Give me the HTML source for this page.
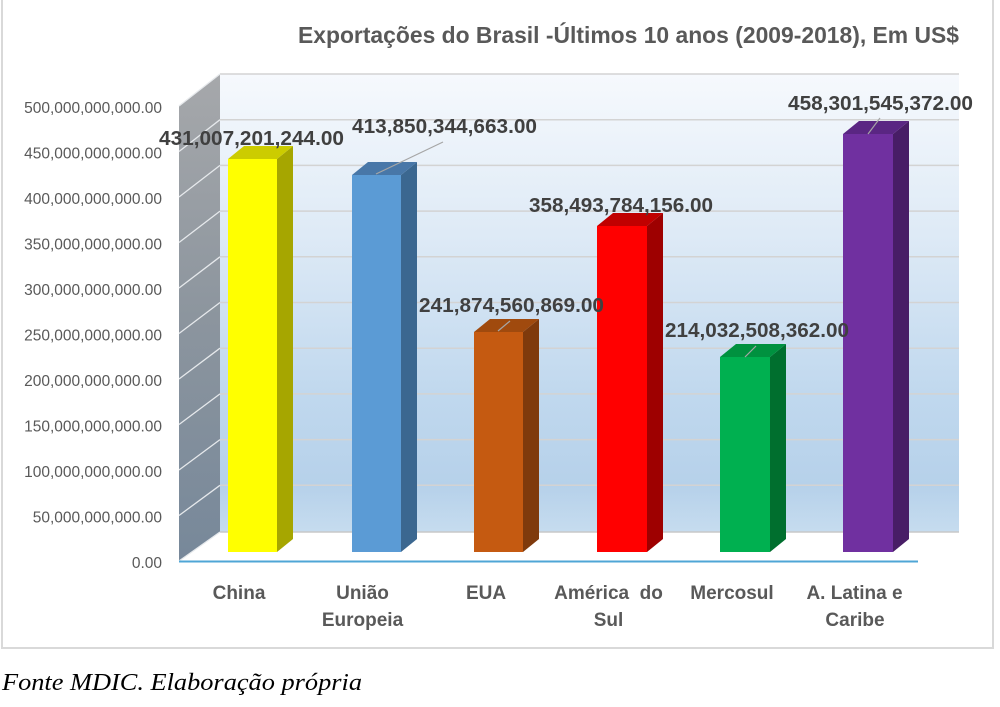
<!DOCTYPE html>
<html>
<head>
<meta charset="utf-8">
<style>
  html,body{margin:0;padding:0;background:#fff;}
  svg{display:block;}
</style>
</head>
<body>
<svg width="1000" height="707" viewBox="0 0 1000 707" xmlns="http://www.w3.org/2000/svg">
  <defs>
    <linearGradient id="back" x1="0" y1="0" x2="0" y2="1">
      <stop offset="0" stop-color="#f6f9fd"/>
      <stop offset="0.35" stop-color="#deeaf6"/>
      <stop offset="0.7" stop-color="#c0d8ee"/>
      <stop offset="0.9" stop-color="#b6d1ea"/>
      <stop offset="1" stop-color="#c6dcef"/>
    </linearGradient>
    <linearGradient id="side" x1="0" y1="0" x2="0" y2="1">
      <stop offset="0" stop-color="#a6a8ab"/>
      <stop offset="0.5" stop-color="#8c959e"/>
      <stop offset="1" stop-color="#77889a"/>
    </linearGradient>
  </defs>

  <!-- chart frame -->
  <rect x="2" y="-5" width="991" height="653" fill="#fff" stroke="#d9d9d9" stroke-width="2"/>

  <!-- title -->
  <text x="298" y="43" font-family="Liberation Sans, sans-serif" font-weight="bold" font-size="23.5" fill="#595959" textLength="661" lengthAdjust="spacingAndGlyphs">Exportações do Brasil -Últimos 10 anos (2009-2018), Em US$</text>

  <!-- back wall -->
  <rect x="220" y="74" width="739" height="458" fill="url(#back)"/>
  <g stroke="#d3d3d3" stroke-width="1.5">
    <line x1="220" y1="74" x2="959" y2="74"/>
    <line x1="220" y1="119.7" x2="959" y2="119.7"/>
    <line x1="220" y1="165.4" x2="959" y2="165.4"/>
    <line x1="220" y1="211.1" x2="959" y2="211.1"/>
    <line x1="220" y1="256.8" x2="959" y2="256.8"/>
    <line x1="220" y1="302.5" x2="959" y2="302.5"/>
    <line x1="220" y1="348.2" x2="959" y2="348.2"/>
    <line x1="220" y1="393.9" x2="959" y2="393.9"/>
    <line x1="220" y1="439.6" x2="959" y2="439.6"/>
    <line x1="220" y1="485.3" x2="959" y2="485.3"/>
  </g>

  <!-- floor -->
  <polygon points="179,561 220,532 959,532 918,561" fill="#ffffff"/>
  <line x1="220" y1="532" x2="959" y2="532" stroke="#c8c8c8" stroke-width="1.5"/>

  <!-- side wall -->
  <polygon points="179,106 220,74 220,532 179,561" fill="url(#side)"/>
  <g stroke="#e6e9ec" stroke-width="1.3">
    <line x1="179" y1="106" x2="220" y2="74"/>
    <line x1="179" y1="151.5" x2="220" y2="119.7"/>
    <line x1="179" y1="197" x2="220" y2="165.4"/>
    <line x1="179" y1="242.5" x2="220" y2="211.1"/>
    <line x1="179" y1="288" x2="220" y2="256.8"/>
    <line x1="179" y1="333.5" x2="220" y2="302.5"/>
    <line x1="179" y1="379" x2="220" y2="348.2"/>
    <line x1="179" y1="424.5" x2="220" y2="393.9"/>
    <line x1="179" y1="470" x2="220" y2="439.6"/>
    <line x1="179" y1="515.5" x2="220" y2="485.3"/>
    <line x1="179" y1="561" x2="220" y2="532"/>
  </g>

  <!-- front axis line -->
  <line x1="179" y1="561.5" x2="918" y2="561.5" stroke="#4fa6d6" stroke-width="2"/>

  <!-- bars -->
  <polygon points="277,159 293,146 293,539 277,552" fill="#a6a600"/>
  <polygon points="228,159 244,146 293,146 277,159" fill="#cccc00"/>
  <rect x="228" y="159" width="49" height="393" fill="#ffff00"/>

  <polygon points="401,175 417,162 417,539 401,552" fill="#3b6790"/>
  <polygon points="352,175 368,162 417,162 401,175" fill="#4877a8"/>
  <rect x="352" y="175" width="49" height="377" fill="#5b9bd5"/>

  <polygon points="523,332 539,319 539,539 523,552" fill="#7f3a0c"/>
  <polygon points="474,332 490,319 539,319 523,332" fill="#a04a0e"/>
  <rect x="474" y="332" width="49" height="220" fill="#c55a11"/>

  <polygon points="647,226 663,213 663,539 647,552" fill="#9e0000"/>
  <polygon points="597,226 613,213 663,213 647,226" fill="#c00000"/>
  <rect x="597" y="226" width="50" height="326" fill="#ff0000"/>

  <polygon points="770,357 786,344 786,539 770,552" fill="#006f2e"/>
  <polygon points="720,357 736,344 786,344 770,357" fill="#00913f"/>
  <rect x="720" y="357" width="50" height="195" fill="#00b050"/>

  <polygon points="893,134 909,121 909,539 893,552" fill="#481d66"/>
  <polygon points="843,134 859,121 909,121 893,134" fill="#5a2683"/>
  <rect x="843" y="134" width="50" height="418" fill="#7030a0"/>

  <!-- leader lines -->
  <g stroke="#a6a6a6" stroke-width="1.2">
    <line x1="443" y1="142" x2="376" y2="174"/>
    <line x1="880" y1="118" x2="868" y2="134"/>
    <line x1="498" y1="331" x2="510" y2="321"/>
    <line x1="745" y1="357" x2="756" y2="346"/>
  </g>

  <!-- data labels -->
  <g font-family="Liberation Sans, sans-serif" font-weight="bold" font-size="20.5" fill="#404040">
    <text x="159" y="145" textLength="185" lengthAdjust="spacingAndGlyphs">431,007,201,244.00</text>
    <text x="352" y="133" textLength="185" lengthAdjust="spacingAndGlyphs">413,850,344,663.00</text>
    <text x="419" y="312" textLength="185" lengthAdjust="spacingAndGlyphs">241,874,560,869.00</text>
    <text x="529" y="212" textLength="184" lengthAdjust="spacingAndGlyphs">358,493,784,156.00</text>
    <text x="665" y="337" textLength="184" lengthAdjust="spacingAndGlyphs">214,032,508,362.00</text>
    <text x="788" y="110" textLength="185" lengthAdjust="spacingAndGlyphs">458,301,545,372.00</text>
  </g>

  <!-- y axis labels -->
  <g font-family="Liberation Sans, sans-serif" font-size="15.5" fill="#595959" text-anchor="end">
    <text x="162" y="113">500,000,000,000.00</text>
    <text x="162" y="158.5">450,000,000,000.00</text>
    <text x="162" y="204">400,000,000,000.00</text>
    <text x="162" y="249.5">350,000,000,000.00</text>
    <text x="162" y="295">300,000,000,000.00</text>
    <text x="162" y="340.5">250,000,000,000.00</text>
    <text x="162" y="386">200,000,000,000.00</text>
    <text x="162" y="431.5">150,000,000,000.00</text>
    <text x="162" y="477">100,000,000,000.00</text>
    <text x="162" y="522.5">50,000,000,000.00</text>
    <text x="162" y="568">0.00</text>
  </g>

  <!-- category labels -->
  <g font-family="Liberation Sans, sans-serif" font-weight="bold" font-size="19" fill="#595959" text-anchor="middle">
    <text x="239" y="599">China</text>
    <text x="362.5" y="599">União</text>
    <text x="362.5" y="626">Europeia</text>
    <text x="486" y="599">EUA</text>
    <text x="608.5" y="599" xml:space="preserve">América  do</text>
    <text x="608.5" y="626">Sul</text>
    <text x="732" y="599">Mercosul</text>
    <text x="854.5" y="599">A. Latina e</text>
    <text x="855" y="626">Caribe</text>
  </g>

  <!-- caption -->
  <text x="2" y="690" font-family="Liberation Serif, serif" font-style="italic" font-size="24" fill="#000" textLength="360" lengthAdjust="spacingAndGlyphs">Fonte MDIC. Elaboração própria</text>
</svg>
</body>
</html>
